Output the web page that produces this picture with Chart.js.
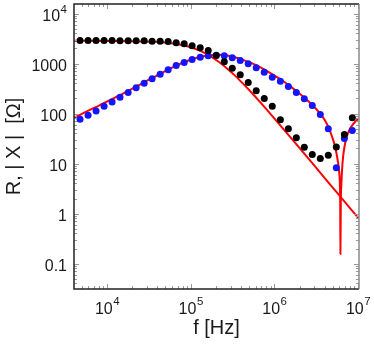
<!DOCTYPE html>
<html>
<head>
<meta charset="utf-8">
<script src="https://cdn.jsdelivr.net/npm/chart.js@4.4.1/dist/chart.umd.min.js"></script>
<style>
body{margin:0;background:#fff;}
#wrap{width:374px;height:348px;}
</style>
</head>
<body>
<div id="wrap"><canvas id="impChart" width="374" height="348"></canvas></div>
<script>

/* measured points */
const freq = [4760, 5940, 7400, 9230, 11500, 14300, 17900, 22300, 27800, 34600, 43200, 53800, 67100, 83600,
    104000, 130000, 162000, 202000, 252000, 314000, 391000, 487000, 607000, 757000, 944000,
    1180000, 1470000, 1830000, 2280000, 2840000, 3540000, 4410000, 5500000, 6860000, 8550000];

const resR = [2880, 2880, 2880, 2880, 2880, 2870, 2870, 2860, 2860, 2800, 2780, 2750, 2600, 2480,
    2260, 2060, 1820, 1450, 1080, 805, 594, 417, 284, 200, 140,
    75, 49.4, 32.7, 21.2, 15.1, 12.6, 14.7, 21.4, 38, 82];

const reactX = [76.9, 92.5, 113, 140, 171, 212, 263, 327, 404, 494, 611, 748, 912, 1047,
    1202, 1337, 1426, 1466, 1426, 1300, 1148, 986, 820, 670, 532,
    443, 347, 263, 197, 145, 95.5, 49.4, 8.2, 31.6, 45.7];

/* fitted curves */
const fitRf = [4032, 10000, 19360, 37480, 58200, 90400, 112700, 140400, 175000, 218000, 271800, 338800,
    422100, 526200, 655700, 817200, 1269000, 1971000, 3062000, 4756000, 7386000, 10270000];
const fitR = [2844, 2831, 2805, 2716, 2547, 2218, 1977, 1690, 1380, 1076, 798, 573,
    396, 269, 179.5, 118, 50.1, 21.0, 8.75, 3.63, 1.51, 0.78];

const fitXf = [4032, 5026, 6263, 8025, 10000, 12460, 15530, 19360, 24130, 30080, 37480, 46700, 58200, 72530,
    90400, 112700, 140400, 175000, 218000, 271800, 338800, 422100, 526200, 655700, 817200,
    1018000, 1269000, 1582000, 1971000, 2457000, 3062000, 3612000, 4033000, 4502000, 4889000,
    5236000, 5533000, 5766000, 5960000, 6076000, 6125000, 6159000, 6228000, 6314000, 6437000,
    6616000, 6894000, 7285000, 7803000, 8478000, 9333000, 10270000];
const fitX = [82.0, 98.6, 118.6, 144.5, 173.8, 208.9, 251.2, 304.8, 371.5, 452.9, 549.5, 666.8, 812.8, 963.9,
    1122, 1271, 1393, 1472, 1493, 1445, 1330, 1186, 1023, 871, 708,
    567.5, 446.7, 342, 254.7, 186.2, 130, 95.5, 72.4, 50.1, 34.7,
    24.0, 15.85, 10.5, 6.61, 3.63, 1.445, 0.156, 1.82, 3.63, 7.24,
    13.2, 21.9, 33.1, 45.7, 57.5, 69.2, 81.3];

/* tick labels */
const xTickVals = [1e4, 1e5, 1e6, 1e7];
const xTickExp = ["4", "5", "6", "7"];
const yTickVals = [1e4, 1000, 100, 10, 1, 0.1];
const yTickText = ["10", "1000", "100", "10", "1", "0.1"];
const yTickExp = ["4", "", "", "", "", ""];

const xTitle = "f [Hz]";
const yTitle = "R, | X |  [Ω]";

function pairs(xs, ys){
    return xs.map((v, i) => ({x: v, y: ys[i]}));
}

const FONT = '"Liberation Sans", Arial, sans-serif';
const TEXT = "#1a1a1a";

const framePlugin = {
    id: "frame",
    afterDraw(chart){
        const ctx = chart.ctx;
        const a = chart.chartArea;
        const xs = chart.scales.x;
        const ys = chart.scales.y;

        ctx.save();

        // minor / major ticks on all four sides, inside the frame
        ctx.strokeStyle = "#999";
        ctx.lineWidth = 1;
        for(let d = 3; d <= 7; d++){
            for(let k = 1; k <= 9; k++){
                const v = k * Math.pow(10, d);
                if(v < xs.min || v > xs.max) continue;
                const px = Math.round(xs.getPixelForValue(v)) + 0.5;
                const len = k === 1 ? 5 : 3;
                ctx.beginPath();
                ctx.moveTo(px, a.bottom); ctx.lineTo(px, a.bottom - len);
                ctx.moveTo(px, a.top); ctx.lineTo(px, a.top + len);
                ctx.stroke();
            }
        }
        for(let d = -2; d <= 4; d++){
            for(let k = 1; k <= 9; k++){
                const v = k * Math.pow(10, d);
                if(v < ys.min || v > ys.max) continue;
                const py = Math.round(ys.getPixelForValue(v)) + 0.5;
                const len = k === 1 ? 5 : 3;
                ctx.beginPath();
                ctx.moveTo(a.left, py); ctx.lineTo(a.left + len, py);
                ctx.moveTo(a.right, py); ctx.lineTo(a.right - len, py);
                ctx.stroke();
            }
        }

        // frame
        ctx.lineWidth = 1.5;
        ctx.strokeStyle = "#222";
        ctx.beginPath();
        ctx.moveTo(a.right, a.top); ctx.lineTo(a.left, a.top);
        ctx.lineTo(a.left, a.bottom); ctx.lineTo(a.right, a.bottom);
        ctx.stroke();
        ctx.strokeStyle = "#888";
        ctx.beginPath();
        ctx.moveTo(a.right, a.top); ctx.lineTo(a.right, a.bottom);
        ctx.stroke();

        // x tick labels  10^n
        ctx.fillStyle = TEXT;
        ctx.textBaseline = "alphabetic";
        ctx.textAlign = "left";
        xTickVals.forEach((v, i) => {
            const px = xs.getPixelForValue(v);
            ctx.font = "16px " + FONT;
            const wb = ctx.measureText("10").width;
            ctx.font = "11.5px " + FONT;
            const we = ctx.measureText(xTickExp[i]).width;
            const x0 = px - (wb + we) / 2;
            ctx.font = "16px " + FONT;
            ctx.fillText("10", x0, a.bottom + 24.5);
            ctx.font = "11.5px " + FONT;
            ctx.fillText(xTickExp[i], x0 + wb + 0.5, a.bottom + 16);
        });

        // y tick labels
        const right = a.left - 7;
        yTickVals.forEach((v, i) => {
            const py = ys.getPixelForValue(v);
            let we = 0;
            if(yTickExp[i]){
                ctx.font = "11.5px " + FONT;
                we = ctx.measureText(yTickExp[i]).width + 0.5;
                ctx.textAlign = "right";
                ctx.fillText(yTickExp[i], right, py - 0.5);
            }
            ctx.font = "16px " + FONT;
            ctx.textAlign = "right";
            ctx.fillText(yTickText[i], right - we, py + 7.5);
        });

        // axis titles
        ctx.font = "20px " + FONT;
        ctx.textAlign = "center";
        ctx.fillText(xTitle, (a.left + a.right) / 2, 334);

        ctx.translate(20, (a.top + a.bottom) / 2);
        ctx.rotate(-Math.PI / 2);
        ctx.fillText(yTitle, 0, 0);

        ctx.restore();
    }
};

const impChart = new Chart(document.getElementById("impChart"), {
    type: "scatter",
    data: {
        datasets: [
            {
                label: "R",
                data: pairs(freq, resR),
                backgroundColor: "#000",
                borderColor: "#000",
                pointRadius: 3.5,
                pointBorderWidth: 0,
                showLine: false
            },
            {
                label: "|X|",
                data: pairs(freq, reactX),
                backgroundColor: "rgb(20,20,255)",
                borderColor: "rgb(20,20,255)",
                pointRadius: 3.5,
                pointBorderWidth: 0,
                showLine: false
            },
            {
                label: "R fit",
                data: pairs(fitRf, fitR),
                borderColor: "#ff0000",
                borderWidth: 2,
                pointRadius: 0,
                showLine: true,
                cubicInterpolationMode: "monotone"
            },
            {
                label: "X fit",
                data: pairs(fitXf, fitX),
                borderColor: "#ff0000",
                borderWidth: 2,
                pointRadius: 0,
                showLine: true,
                cubicInterpolationMode: "monotone"
            }
        ]
    },
    options: {
        responsive: false,
        animation: false,
        devicePixelRatio: 1,
        layout: {
            padding: {top: 4, right: 15, left: 0, bottom: 0}
        },
        plugins: {
            legend: {display: false},
            tooltip: {enabled: false}
        },
        scales: {
            x: {
                type: "logarithmic",
                min: 4032,
                max: 10270000,
                ticks: {display: false},
                grid: {display: false},
                border: {display: false},
                afterFit(s){ s.height = 59; }
            },
            y: {
                type: "logarithmic",
                min: 0.031,
                max: 15500,
                ticks: {display: false},
                grid: {display: false},
                border: {display: false},
                afterFit(s){ s.width = 74; }
            }
        }
    },
    plugins: [framePlugin]
});

</script>
</body>
</html>
